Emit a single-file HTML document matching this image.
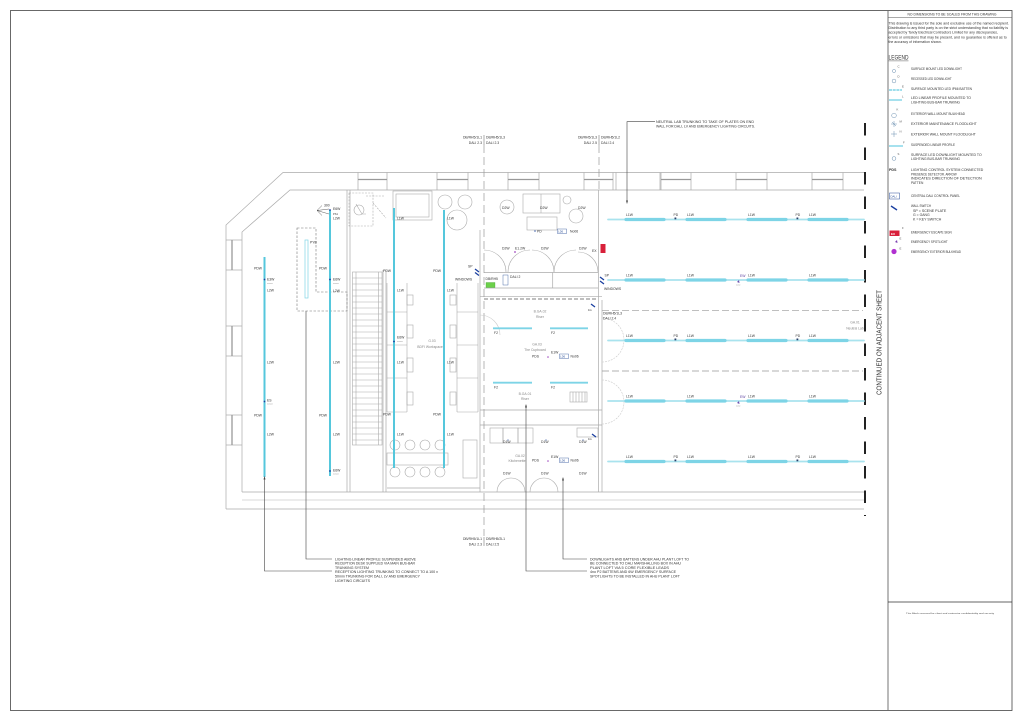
<!DOCTYPE html>
<html><head><meta charset="utf-8"><style>
html,body{margin:0;padding:0;background:#fff;}
svg{display:block;}
text{font-family:"Liberation Sans",sans-serif;}
</style></head><body>
<svg width="1024" height="723" viewBox="0 0 1024 723" xmlns="http://www.w3.org/2000/svg">
<rect width="1024" height="723" fill="#fff"/>

<!-- ===== FRAME & TITLE COLUMN ===== -->
<rect x="10.5" y="10.5" width="1001.5" height="700" fill="none" stroke="#444" stroke-width="0.8"/>
<line x1="888" y1="10.5" x2="888" y2="710.5" stroke="#666" stroke-width="0.9"/>
<line x1="888" y1="17.5" x2="1012" y2="17.5" stroke="#555" stroke-width="0.6"/>
<text x="952" y="15.6" font-size="3.6" text-anchor="middle" textLength="89" lengthAdjust="spacingAndGlyphs" fill="#333">NO DIMENSIONS TO BE SCALED FROM THIS DRAWING</text>
<g font-size="3.3" fill="#333">
<text x="888.5" y="24.4" textLength="120.5" lengthAdjust="spacingAndGlyphs">This drawing is issued for the sole and exclusive use of the named recipient.</text>
<text x="888.5" y="29.1" textLength="119.5" lengthAdjust="spacingAndGlyphs">Distribution to any third party is on the strict understanding that no liability is</text>
<text x="888.5" y="33.7" textLength="109.5" lengthAdjust="spacingAndGlyphs">accepted by Tandy Electrical Contractors Limited for any discrepancies,</text>
<text x="888.5" y="38.4" textLength="118.2" lengthAdjust="spacingAndGlyphs">errors or omissions that may be present, and no guarantee is offered as to</text>
<text x="888.5" y="43" textLength="53.3" lengthAdjust="spacingAndGlyphs">the accuracy of information shown.</text>
</g>
<text x="888.5" y="59.5" font-size="6.5" textLength="20" lengthAdjust="spacingAndGlyphs" fill="#333">LEGEND</text>
<line x1="888.5" y1="60.9" x2="908.5" y2="60.9" stroke="#333" stroke-width="0.4"/>

<g font-size="3.2" fill="#333">
<text x="911" y="70.1" textLength="51" lengthAdjust="spacingAndGlyphs">SURFACE MOUNT LED DOWNLIGHT</text>
<text x="911" y="80.1" textLength="40.7" lengthAdjust="spacingAndGlyphs">RECESSED LED DOWNLIGHT</text>
<text x="911" y="90.1" textLength="61" lengthAdjust="spacingAndGlyphs">SURFACE MOUNTED LED IP66 BATTEN</text>
<text x="911" y="99.1" textLength="60" lengthAdjust="spacingAndGlyphs">LED LINEAR PROFILE MOUNTED TO</text>
<text x="911" y="103.5" textLength="49" lengthAdjust="spacingAndGlyphs">LIGHTING BUS-BAR TRUNKING</text>
<text x="911" y="115.1" textLength="54" lengthAdjust="spacingAndGlyphs">EXTERIOR WALL MOUNT BULKHEAD</text>
<text x="911" y="125.1" textLength="65.7" lengthAdjust="spacingAndGlyphs">EXTERIOR MAINTENANCE FLOODLIGHT</text>
<text x="911" y="135.5" textLength="64.7" lengthAdjust="spacingAndGlyphs">EXTERIOR WALL MOUNT FLOODLIGHT</text>
<text x="911" y="146.1" textLength="44" lengthAdjust="spacingAndGlyphs">SUSPENDED LINEAR PROFILE</text>
<text x="911" y="156.1" textLength="70.7" lengthAdjust="spacingAndGlyphs">SURFACE LED DOWNLIGHT MOUNTED TO</text>
<text x="911" y="160.1" textLength="49" lengthAdjust="spacingAndGlyphs">LIGHTING BUS-BAR TRUNKING</text>
<text x="911" y="171.1" textLength="72.3" lengthAdjust="spacingAndGlyphs">LIGHTING CONTROL SYSTEM CONNECTED</text>
<text x="911" y="175.4" textLength="45.7" lengthAdjust="spacingAndGlyphs">PRESENCE DETECTOR. ARROW</text>
<text x="911" y="179.6" textLength="70.7" lengthAdjust="spacingAndGlyphs">INDICATES DIRECTION OF DETECTION</text>
<text x="911" y="183.8" textLength="12.3" lengthAdjust="spacingAndGlyphs">PATTEN</text>
<text x="911" y="197.1" textLength="49" lengthAdjust="spacingAndGlyphs">CENTRAL DALI CONTROL PANEL</text>
<text x="911" y="206.8" textLength="20" lengthAdjust="spacingAndGlyphs">WALL SWITCH</text>
<text x="913" y="211.8" textLength="33.3" lengthAdjust="spacingAndGlyphs">SP = SCENE PLATE</text>
<text x="913" y="216.1" textLength="16.7" lengthAdjust="spacingAndGlyphs">G = GANG</text>
<text x="913" y="220.4" textLength="28.3" lengthAdjust="spacingAndGlyphs">K = KEY SWITCH</text>
<text x="911" y="233.4" textLength="40.7" lengthAdjust="spacingAndGlyphs">EMERGENCY ESCAPE SIGN</text>
<text x="911" y="242.8" textLength="36.7" lengthAdjust="spacingAndGlyphs">EMERGENCY SPOTLIGHT</text>
<text x="911" y="252.8" textLength="50" lengthAdjust="spacingAndGlyphs">EMERGENCY EXTERIOR BULKHEAD</text>
<text x="889" y="171.1" font-weight="bold" textLength="7.5" lengthAdjust="spacingAndGlyphs">PDS</text>
</g>
<!-- legend icons -->
<g fill="none" stroke="#6a8fb0" stroke-width="0.5">
<circle cx="894" cy="71" r="1.6"/>
<circle cx="894" cy="81" r="1.9"/>
<circle cx="894" cy="115.5" r="2.3"/>
<circle cx="894" cy="158.5" r="1.9"/>
<rect x="889.5" y="193" width="10" height="6" stroke="#2a4f9a"/>
</g>
<g stroke="#7fd4e6" stroke-width="1.4">
<line x1="889" y1="90" x2="902" y2="90" stroke-dasharray="3,0.7"/>
<line x1="889" y1="100" x2="902" y2="100"/>
<line x1="889" y1="146" x2="903" y2="146"/>
</g>
<g font-size="2.8" fill="#555">
<text x="897.5" y="67.5">C</text><text x="897.5" y="77.5">D</text>
<text x="902" y="87.5">E</text><text x="902" y="97.5">L</text>
<text x="896.5" y="110.5">K</text><text x="899.5" y="122.5">M</text><text x="899.5" y="132.5">N</text>
<text x="903" y="143.5">F</text><text x="897.5" y="155">S</text>
<text x="902" y="229">F</text><text x="899.5" y="239.5">E</text><text x="899.5" y="249.5">E</text>
</g>
<text x="890.5" y="197.4" font-size="2.8" fill="#2a4f9a">DALI</text>
<g stroke="#6a8fb0" stroke-width="0.5" fill="none">
<path d="M891,124 L897,124 M894,121 L894,127 M892,122 L896,126"/>
<path d="M891,134 L897,134 M894,131 L894,137"/>
</g>
<path d="M891,206 L897,210" stroke="#1a3fa0" stroke-width="1.4"/>
<rect x="889.5" y="230.5" width="10" height="5.5" fill="#d8203a"/>
<text x="891" y="234.8" font-size="3" fill="#fff" font-weight="bold">EX</text>
<path d="M895,242 L897,240 L897.5,243 Z" fill="#7a3fb0"/>
<circle cx="894" cy="251.5" r="2.6" fill="#b030d0"/>

<!-- bottom title box -->
<line x1="888" y1="602" x2="1012" y2="602" stroke="#333" stroke-width="0.8"/>
<text x="950" y="614" font-size="2.2" text-anchor="middle" textLength="88" lengthAdjust="spacingAndGlyphs" fill="#444">This Block reserved for client and contractor confidentiality and security</text>

<!-- ===== CONTINUATION LINE ===== -->
<line x1="865" y1="123" x2="865" y2="516" stroke="#222" stroke-width="2" stroke-dasharray="12.5,12"/>
<text transform="translate(881.5,342.5) rotate(-90)" font-size="7" text-anchor="middle" textLength="105" lengthAdjust="spacingAndGlyphs" fill="#333">CONTINUED ON ADJACENT SHEET</text>

<!-- ===== BUILDING WALLS ===== -->
<g fill="none" stroke="#aaa" stroke-width="0.7">
<polyline points="226,509 226,225 283,172.5 864,172.5"/>
<line x1="226" y1="509" x2="864" y2="509"/>
<polyline points="242,492 242,232 290,190 864,190"/>
<line x1="242" y1="492" x2="864" y2="492"/>
<!-- left windows separators -->
<line x1="226" y1="240" x2="242" y2="240"/><line x1="226" y1="270" x2="242" y2="270"/>
<line x1="226" y1="326" x2="242" y2="326"/><line x1="226" y1="356" x2="242" y2="356"/>
<line x1="226" y1="415" x2="242" y2="415"/><line x1="226" y1="445" x2="242" y2="445"/>
<!-- top windows separators -->
<line x1="358" y1="172.5" x2="358" y2="190"/><line x1="387" y1="172.5" x2="387" y2="190"/>
<line x1="437" y1="172.5" x2="437" y2="190"/><line x1="468" y1="172.5" x2="468" y2="190"/>
<line x1="508" y1="172.5" x2="508" y2="190"/><line x1="539" y1="172.5" x2="539" y2="190"/>
<line x1="584" y1="172.5" x2="584" y2="190"/><line x1="613" y1="172.5" x2="613" y2="190"/>
<line x1="661" y1="172.5" x2="661" y2="190"/><line x1="691" y1="172.5" x2="691" y2="190"/>
<line x1="736" y1="172.5" x2="736" y2="190"/><line x1="767" y1="172.5" x2="767" y2="190"/>
<line x1="812" y1="172.5" x2="812" y2="190"/><line x1="843" y1="172.5" x2="843" y2="190"/>
<line x1="616" y1="172.5" x2="616" y2="190"/><line x1="660" y1="172.5" x2="660" y2="190"/>
<!-- interior walls -->
<line x1="347" y1="190" x2="347" y2="492"/><line x1="350" y1="190" x2="350" y2="492"/>
<line x1="383" y1="270" x2="383" y2="492"/><line x1="386" y1="270" x2="386" y2="492"/>
<line x1="480" y1="230" x2="480" y2="492"/>
<line x1="598.5" y1="190" x2="598.5" y2="492"/><line x1="602" y1="300" x2="602" y2="492"/>
<line x1="484" y1="272.5" x2="598" y2="272.5"/><line x1="484" y1="288" x2="598" y2="288"/>
<line x1="552.7" y1="272.5" x2="552.7" y2="288"/>
<line x1="480" y1="296.7" x2="602" y2="296.7"/>
<line x1="480" y1="410" x2="602" y2="410"/><line x1="480" y1="425" x2="602" y2="425"/>
<line x1="242" y1="500" x2="864" y2="500" stroke="#ccc"/>
<line x1="387" y1="488" x2="480" y2="488"/>
</g>
<g stroke="#999" stroke-width="1.3">
<line x1="232" y1="240" x2="232" y2="270"/><line x1="232" y1="326" x2="232" y2="356"/><line x1="232" y1="415" x2="232" y2="445"/>
<line x1="358" y1="179.5" x2="387" y2="179.5"/><line x1="437" y1="179.5" x2="468" y2="179.5"/>
<line x1="508" y1="179.5" x2="539" y2="179.5"/><line x1="584" y1="179.5" x2="613" y2="179.5"/>
<line x1="661" y1="179.5" x2="691" y2="179.5"/><line x1="736" y1="179.5" x2="767" y2="179.5"/>
<line x1="812" y1="179.5" x2="843" y2="179.5"/>
</g>
<!-- dashed lines -->
<g fill="none" stroke="#999" stroke-width="0.7">
<line x1="484" y1="145" x2="484" y2="536" stroke-dasharray="8,4"/>
<line x1="599" y1="145" x2="599" y2="190" stroke-dasharray="8,4"/>
<line x1="484" y1="299" x2="598" y2="299" stroke-dasharray="4,2" stroke-width="1.2"/>
<line x1="602" y1="310.7" x2="863" y2="310.7" stroke-dasharray="7,3"/>
<line x1="602" y1="371" x2="863" y2="371" stroke-dasharray="7,3"/>
</g>

<!-- stairs -->
<g fill="none" stroke="#aaa" stroke-width="0.6">
<rect x="352.5" y="272" width="29.5" height="173"/>
<line x1="356" y1="272" x2="356" y2="445"/><line x1="378.5" y1="272" x2="378.5" y2="445"/>
<path d="M352.5,278H382M352.5,284H382M352.5,290H382M352.5,296H382M352.5,302H382M352.5,308H382M352.5,314H382M352.5,320H382M352.5,326H382M352.5,332H382M352.5,338H382M352.5,344H382M352.5,350H382M352.5,356H382M352.5,362H382M352.5,368H382M352.5,374H382M352.5,380H382M352.5,386H382M352.5,392H382M352.5,398H382M352.5,404H382M352.5,410H382M352.5,416H382M352.5,422H382M352.5,428H382M352.5,434H382M352.5,440H382"/>
</g>

<!-- furniture -->
<g fill="none" stroke="#aaa" stroke-width="0.6">
<rect x="349" y="193" width="24" height="33" stroke-dasharray="2,1.2"/>
<circle cx="359" cy="210" r="5"/><path d="M356,204 L362,214 L366,214"/>
<path d="M366,196 L385,196 M373,203 L386,218" stroke-dasharray="2,1.2"/>
<rect x="393" y="191" width="39" height="29"/><rect x="396" y="194" width="33" height="23"/>
<circle cx="445" cy="202" r="7"/><circle cx="465" cy="202" r="7"/><circle cx="457" cy="220" r="10"/>
<!-- desks -->
<line x1="387" y1="283" x2="387" y2="412"/><line x1="407" y1="283" x2="407" y2="412"/>
<line x1="457" y1="283" x2="457" y2="412"/><line x1="478" y1="283" x2="478" y2="412"/>
<path d="M387,312H407M387,345H407M387,378H407M387,412H407M457,312H478M457,345H478M457,378H478M457,412H478"/>
<rect x="407" y="295" width="6" height="10"/><rect x="407" y="325" width="6" height="13"/><rect x="407" y="358" width="6" height="14"/><rect x="407" y="392" width="6" height="13"/>
<rect x="450" y="295" width="6" height="10"/><rect x="450" y="325" width="6" height="13"/><rect x="450" y="358" width="6" height="14"/><rect x="450" y="392" width="6" height="13"/>
<circle cx="395" cy="445" r="5"/><circle cx="410" cy="445" r="5"/><circle cx="425" cy="445" r="5"/><circle cx="440" cy="445" r="5"/>
<circle cx="395" cy="472" r="5"/><circle cx="410" cy="472" r="5"/><circle cx="425" cy="472" r="5"/><circle cx="440" cy="472" r="5"/>
<rect x="387" y="453" width="61" height="12"/>
<rect x="463" y="440" width="14" height="38"/>
<!-- top room -->
<circle cx="507" cy="207" r="7"/>
<rect x="523" y="194" width="37" height="19"/><line x1="541" y1="194" x2="541" y2="213"/>
<circle cx="567" cy="200" r="4"/><circle cx="576" cy="216" r="7"/>
<rect x="527" y="217" width="30" height="13"/>
<!-- doors -->
<path d="M484,250 A22,22 0 0 1 506,272"/>
<path d="M530,250 A22,22 0 0 0 508,272"/>
<path d="M532,250 A22,22 0 0 1 554,272"/>
<path d="M576,250 A22,22 0 0 0 554,272"/>
<path d="M578,252 A20,20 0 0 1 598,272"/>
<path d="M480,315 A20,20 0 0 1 500,335" stroke="#ccc"/>
<path d="M602,318 A22,22 0 0 1 624,340" stroke="#ccc" stroke-dasharray="2,1"/>
<path d="M602,362 A22,22 0 0 0 624,340" stroke="#ccc" stroke-dasharray="2,1"/>
<path d="M602,380 A22,22 0 0 1 624,402" stroke="#ccc" stroke-dasharray="2,1"/>
<path d="M602,424 A22,22 0 0 0 624,402" stroke="#ccc" stroke-dasharray="2,1"/>
<!-- kitchenette -->
<rect x="490" y="428" width="13" height="15"/><rect x="503" y="428" width="15" height="15"/><rect x="518" y="428" width="15" height="15"/>
<rect x="577" y="428" width="21" height="9"/>
<path d="M497,492 A14,14 0 0 1 511,478"/><path d="M525,492 A14,14 0 0 0 511,478"/>
<path d="M530,492 A14,14 0 0 1 544,478"/><path d="M558,492 A14,14 0 0 0 544,478"/>
<!-- radiator -->
<rect x="570" y="392" width="17" height="10"/>
<path d="M573,392V402M576,392V402M579,392V402M582,392V402M585,392V402"/>
</g>

<!-- dashed reception box -->
<path d="M297,228 L316,228 L316,292 L347,292 L347,311 L297,311 Z" fill="none" stroke="#777" stroke-width="0.6" stroke-dasharray="2.5,1.5"/>
<rect x="305" y="240" width="3" height="58" fill="none" stroke="#7fd4e6" stroke-width="0.7"/>

<!-- ===== CYAN VERTICAL LINES ===== -->
<g stroke="#55c7dc" stroke-width="2">
<line x1="264.5" y1="257" x2="264.5" y2="477"/>
<line x1="330" y1="210" x2="330" y2="476"/>
<line x1="394" y1="208" x2="394" y2="468"/>
<line x1="444" y1="210" x2="444" y2="468"/>
</g>

<!-- ===== CYAN HORIZONTAL ROWS ===== -->
<g stroke-linecap="round">
<g stroke="#a9e3ee" stroke-width="1.8">
<line x1="608" y1="219.5" x2="864" y2="219.5"/>
<line x1="608" y1="280" x2="864" y2="280"/>
<line x1="608" y1="340.5" x2="864" y2="340.5"/>
<line x1="608" y1="401" x2="864" y2="401"/>
<line x1="608" y1="461.5" x2="864" y2="461.5"/>
</g>
<g stroke="#7dd4e6" stroke-width="3.2">
<path d="M626,219.5H664M687,219.5H725M748,219.5H786M809,219.5H847"/>
<path d="M626,280H664M687,280H725M748,280H786M809,280H847"/>
<path d="M626,340.5H664M687,340.5H725M748,340.5H786M809,340.5H847"/>
<path d="M626,401H664M687,401H725M748,401H786M809,401H847"/>
<path d="M626,461.5H664M687,461.5H725M748,461.5H786M809,461.5H847"/>
</g>
</g>
<g fill="#2a3f6a">
<rect x="674.5" y="217.5" width="1.8" height="1.8"/><rect x="796.5" y="217.5" width="1.8" height="1.8"/>
<rect x="674.5" y="338.5" width="1.8" height="1.8"/><rect x="796.5" y="338.5" width="1.8" height="1.8"/>
<rect x="674.5" y="459.5" width="1.8" height="1.8"/><rect x="796.5" y="459.5" width="1.8" height="1.8"/>
</g>
<g font-size="3.4" fill="#333">
<text x="626" y="216">L1W</text><text x="687" y="216">L1W</text><text x="748" y="216">L1W</text><text x="809" y="216">L1W</text>
<text x="673.5" y="216">PD</text><text x="795.5" y="216">PD</text>
<text x="626" y="276.5">L1W</text><text x="687" y="276.5">L1W</text><text x="748" y="276.5">L1W</text><text x="809" y="276.5">L1W</text>
<text x="626" y="337">L1W</text><text x="687" y="337">L1W</text><text x="748" y="337">L1W</text><text x="809" y="337">L1W</text>
<text x="673.5" y="337">PD</text><text x="795.5" y="337">PD</text>
<text x="626" y="397.5">L1W</text><text x="687" y="397.5">L1W</text><text x="748" y="397.5">L1W</text><text x="809" y="397.5">L1W</text>
<text x="626" y="458">L1W</text><text x="687" y="458">L1W</text><text x="748" y="458">L1W</text><text x="809" y="458">L1W</text>
<text x="673.5" y="458">PD</text><text x="795.5" y="458">PD</text>
</g>
<g font-size="3.4" fill="#5a3fa0">
<text x="740" y="277">EW</text><text x="740" y="398">EW</text>
</g>
<path d="M737,282 L739,280 L739.5,283 Z M737,403 L739,401 L739.5,404 Z" fill="#6a4fb0"/>
<g font-size="2" fill="#999"><text x="736" y="285.5">www</text><text x="736" y="406.5">www</text></g>

<!-- ===== LEFT LINE LABELS ===== -->
<g font-size="3.4" fill="#333">
<text x="262" y="269.5" text-anchor="end">PDW</text>
<text x="267" y="280.3">E3W</text>
<text x="267" y="291.3">L2W</text>
<text x="267" y="363.3">L2W</text>
<text x="267" y="401.3">ES</text>
<text x="262" y="416.3" text-anchor="end">PDW</text>
<text x="267" y="435.3">L2W</text>

<text x="324" y="206.5">300</text>
<text x="333" y="209.8">E6W</text>
<text x="333" y="214.8" font-size="2.6">PS1</text>
<text x="333" y="219.5">L2W</text>
<text x="327" y="269.5" text-anchor="end">PDW</text>
<text x="333" y="280.3">E6W</text>
<text x="333" y="292">L2W</text>
<text x="333" y="363.3">L2W</text>
<text x="327" y="416.3" text-anchor="end">PDW</text>
<text x="333" y="435.3">L2W</text>
<text x="333" y="471.3">E6W</text>
<text x="310" y="243.5">PYB</text>

<text x="397" y="219.3">L1W</text>
<text x="391" y="272" text-anchor="end">PDW</text>
<text x="397" y="291.3">L1W</text>
<text x="397" y="338.3">E6W</text>
<text x="397" y="363.3">L1W</text>
<text x="391" y="415.3" text-anchor="end">PDW</text>
<text x="397" y="435.3">L1W</text>

<text x="447" y="219.3">L1W</text>
<text x="441" y="272" text-anchor="end">PDW</text>
<text x="447" y="291.3">L1W</text>
<text x="447" y="363.3">L1W</text>
<text x="441" y="415.3" text-anchor="end">PDW</text>
<text x="447" y="435.3">L1W</text>
</g>
<g font-size="2" fill="#999"><text x="267" y="284">wwww</text><text x="333" y="284">wwww</text><text x="267" y="404.5">wwww</text><text x="333" y="474.5">wwww</text><text x="397" y="342">wwww</text></g>
<g fill="#1a3fa0">
<circle cx="264.5" cy="279.5" r="0.9"/><circle cx="264.5" cy="401.5" r="0.9"/>
<circle cx="330" cy="210" r="0.9"/><circle cx="330" cy="279.5" r="0.9"/><circle cx="330" cy="471" r="0.9"/>
<circle cx="394" cy="341.5" r="0.9"/>
</g>
<path d="M322,205.5 L317,210.5 L322,215.5 M317,210.5 L329,209 M317,210.5 L329,214" fill="none" stroke="#333" stroke-width="0.4"/>

<!-- ===== MIDDLE ROOMS LABELS ===== -->
<g font-size="3.4" fill="#888" text-anchor="middle">
<text x="540" y="312.5">B.GA.02</text><text x="540" y="318">Riser</text>
<text x="537" y="345.5">GA.03</text><text x="535" y="350.8">The Cupboard</text>
<text x="525" y="394.8">B.GA.01</text><text x="525" y="400">Riser</text>
<text x="520" y="457">GA.02</text><text x="517" y="462">Kitchenette</text>
<text x="432" y="342">G.03</text><text x="430" y="348">BDFI Workspace</text>
<text x="855" y="323.5">GA.01</text><text x="855" y="329.5">Neutral Lab</text>
</g>
<g stroke="#7dd4e6" stroke-width="1.8">
<line x1="493" y1="328.3" x2="532" y2="328.3"/><line x1="550" y1="328.3" x2="588" y2="328.3"/>
<line x1="493" y1="382.7" x2="532" y2="382.7"/><line x1="550" y1="382.7" x2="588" y2="382.7"/>
</g>
<g font-size="3.4" fill="#333">
<text x="494" y="334">F2</text><text x="551" y="334">F2</text>
<text x="494" y="388.5">F2</text><text x="551" y="388.5">F2</text>
<text x="532" y="357.5">PDS</text><text x="551" y="353.5">E1W</text><text x="570.5" y="357.5">No06</text>
<text x="532" y="461.5">PDS</text><text x="551" y="458">E1W</text><text x="570.5" y="461.5">No06</text>
<text x="503" y="443">D1W</text><text x="541" y="443">D1W</text><text x="579" y="443">D1W</text>
<text x="503" y="474.5">D1W</text><text x="541" y="474.5">D1W</text><text x="579" y="474.5">D1W</text>
<text x="588" y="440" font-size="2.8">1G</text><text x="588" y="311" font-size="2.8">1G</text>
<text x="502" y="209">D2W</text><text x="540" y="209">D2W</text><text x="578" y="209">D2W</text>
<text x="537" y="232.5">PD</text><text x="570" y="232.5">No06</text>
<text x="502" y="249.5">D2W</text><text x="515" y="249.5">E1.2W</text><text x="541" y="249.5">D2W</text><text x="579" y="249.5">D2W</text>
<text x="592" y="252">EX</text>
<text x="485.5" y="280">DB/RH5</text><text x="510" y="278">DALI 2</text>
<text x="468" y="267.5">SP</text><text x="455" y="280.5">WINDOWS</text>
<text x="604.5" y="276.5">SP</text><text x="604" y="290">WINDOWS</text>
<text x="603" y="314.5">DB/RH5/1L3</text><text x="603" y="319.5">DALI 2.4</text>
</g>
<g fill="none" stroke="#2a4f9a" stroke-width="0.4">
<rect x="559.5" y="354" width="9" height="4.5"/><rect x="559.5" y="458" width="9" height="4.5"/><rect x="557.5" y="229" width="9" height="4.5"/>
<rect x="503" y="275" width="5" height="10"/>
</g>
<g font-size="2.6" fill="#2a4f9a"><text x="560.3" y="357.6">LD6</text><text x="560.3" y="461.6">LD6</text><text x="558.3" y="232.6">LD6</text></g>
<rect x="486" y="282.5" width="9" height="5" fill="#6cd04a" stroke="#3a9a2a" stroke-width="0.3"/>
<rect x="600.5" y="244" width="5" height="9" fill="#d8203a"/>
<g fill="#a04ac0"><circle cx="548" cy="357" r="0.8"/><circle cx="548" cy="461" r="0.8"/><circle cx="515" cy="252" r="0.9"/></g>
<g fill="#4a6ab0"><circle cx="535" cy="231" r="0.8"/><circle cx="508" cy="440" r="0.6"/><circle cx="546" cy="440" r="0.6"/><circle cx="583" cy="440" r="0.6"/></g>
<!-- switches -->
<g stroke="#1a3fa0" stroke-width="1.3">
<path d="M475,269 L479,272 M475,272.5 L479,275.5"/>
<path d="M600,277 L604,280 M600,281 L604,284"/>
<path d="M592,434 L596,437"/><path d="M591,304 L595,307"/>
</g>

<!-- ===== LEADERS ===== -->
<g fill="none" stroke="#444" stroke-width="0.6">
<polyline points="306,311 306,559 332,559"/>
<polyline points="264.5,478 264.5,571 332,571"/>
<polyline points="526,405 526,571 587,571"/>
<polyline points="563,478 563,559 587,559"/>
<polyline points="655,121.7 627,121.7 627,201"/>
</g>
<g fill="#444">
<path d="M526,404 L525,407.5 L527,407.5 Z"/>
<path d="M563,477 L562,480.5 L564,480.5 Z"/>
<path d="M627,204 L626,200.5 L628,200.5 Z"/>
<path d="M264.5,476 L263.5,479.5 L265.5,479.5 Z"/>
</g>

<!-- ===== NOTES ===== -->
<g font-size="3.7" fill="#333">
<text x="656" y="123" textLength="98" lengthAdjust="spacingAndGlyphs">NEUTRAL LAB TRUNKING TO TAKE OF PLATES ON END</text>
<text x="656" y="127.6" textLength="99" lengthAdjust="spacingAndGlyphs">WALL FOR DALI, LV AND EMERGENCY LIGHTING CIRCUITS.</text>
<text x="335" y="560.3" textLength="81" lengthAdjust="spacingAndGlyphs">LIGHTING LINEAR PROFILE SUSPENDED ABOVE</text>
<text x="335" y="564.6" textLength="80" lengthAdjust="spacingAndGlyphs">RECEPTION DESK SUPPLIED VIA MAIN BUS-BAR</text>
<text x="335" y="569" textLength="34" lengthAdjust="spacingAndGlyphs">TRUNKING SYSTEM</text>
<text x="335" y="573" textLength="103" lengthAdjust="spacingAndGlyphs">RECEPTION LIGHTING TRUNKING TO CONNECT TO A 100 x</text>
<text x="335" y="577.3" textLength="85" lengthAdjust="spacingAndGlyphs">50mm TRUNKING FOR DALI, LV AND EMERGENCY</text>
<text x="335" y="582" textLength="35" lengthAdjust="spacingAndGlyphs">LIGHTING CIRCUITS</text>
<text x="590" y="560.3" textLength="99" lengthAdjust="spacingAndGlyphs">DOWNLIGHTS AND BATTENS UNDER AHU PLANT LOFT TO</text>
<text x="590" y="564.6" textLength="91" lengthAdjust="spacingAndGlyphs">BE CONNECTED TO DALI MARSHALLING BOX IN AHU</text>
<text x="590" y="569" textLength="79" lengthAdjust="spacingAndGlyphs">PLANT LOFT VIA 5 CORE FLEXIBLE LEADS</text>
<text x="590" y="573" textLength="86" lengthAdjust="spacingAndGlyphs">4no P2 BATTENS AND 6W EMERGENCY SURFACE</text>
<text x="590" y="577.3" textLength="90" lengthAdjust="spacingAndGlyphs">SPOTLIGHTS TO BE INSTALLED IN AHU PLANT LOFT</text>
</g>

<!-- DB labels -->
<g font-size="3.4" fill="#333">
<text x="482" y="138.5" text-anchor="end">DB/RH5/1L1</text><text x="486" y="138.5">DB/RH5/1L3</text>
<text x="482" y="144" text-anchor="end">DALI 2.3</text><text x="486" y="144">DALI 2.3</text>
<text x="597" y="138.5" text-anchor="end">DB/RH5/1L3</text><text x="601" y="138.5">DB/RH5/1L2</text>
<text x="597" y="144" text-anchor="end">DALI 2.5</text><text x="601" y="144">DALI 2.4</text>
<text x="482" y="540" text-anchor="end">DB/RH5/1L1</text><text x="486" y="540">DB/RH5/2L1</text>
<text x="482" y="545.5" text-anchor="end">DALI 2.3</text><text x="486" y="545.5">DALI 2.5</text>
</g>
<g stroke="#333" stroke-width="0.4">
<line x1="484" y1="135" x2="484" y2="145"/><line x1="599" y1="135" x2="599" y2="145"/><line x1="484" y1="537" x2="484" y2="546"/>
</g>
</svg>
</body></html>
